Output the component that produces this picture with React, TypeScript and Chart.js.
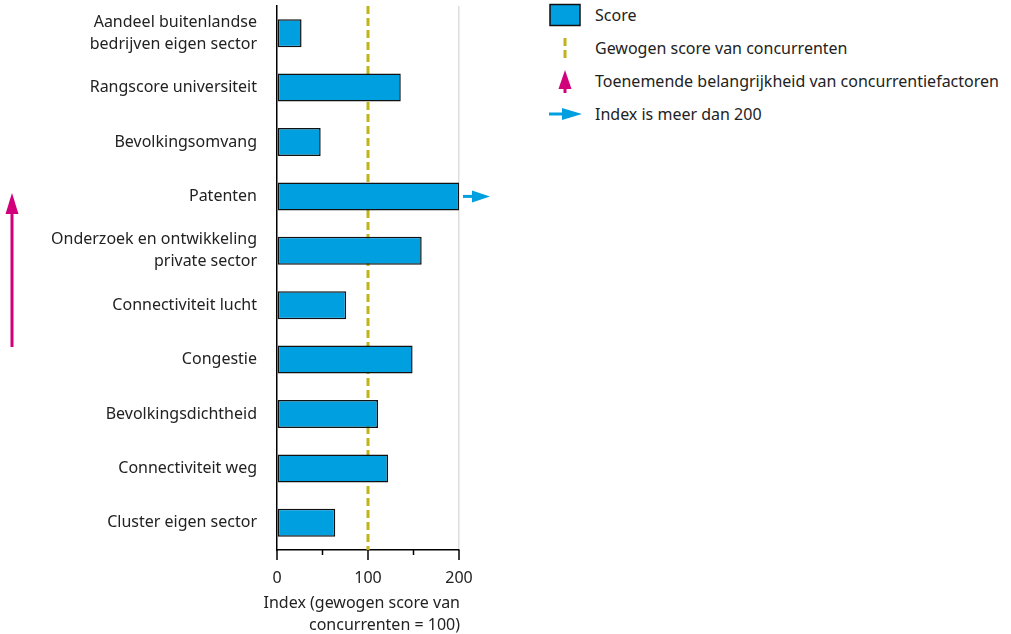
import React, { useEffect, useRef } from "react";
import { Chart, registerables } from "chart.js";

Chart.register(...registerables);

const categories: (string | string[])[] = [
  ["Aandeel buitenlandse", "bedrijven eigen sector"],
  "Rangscore universiteit",
  "Bevolkingsomvang",
  "Patenten",
  ["Onderzoek en ontwikkeling", "private sector"],
  "Connectiviteit lucht",
  "Congestie",
  "Bevolkingsdichtheid",
  "Connectiviteit weg",
  "Cluster eigen sector",
];
// Patenten exceeds 200; shown capped at the axis maximum with an arrow
const scores = [27, 136, 48, 200, 159, 76, 149, 111, 122, 64];
const exceedsMax = [false, false, false, true, false, false, false, false, false, false];
const competitorScore = 100;
const xTickValues = [0, 50, 100, 150, 200];
const xTickLabels = ["0", "", "100", "", "200"];
const xTitle = ["Index (gewogen score van", "concurrenten = 100)"];
const legendLabels = [
  "Score",
  "Gewogen score van concurrenten",
  "Toenemende belangrijkheid van concurrentiefactoren",
  "Index is meer dan 200",
];

const FONT = "'Noto Sans', sans-serif";
const BLUE = "#009FE0";
const OLIVE = "#C0B31B";
const MAGENTA = "#D1007A";
const TEXT = "#222";

const overlayPlugin = {
  id: "overlay",
  beforeDatasetsDraw(chart: any) {
    const { ctx, chartArea, scales } = chart;
    const x = scales.x.getPixelForValue(competitorScore);
    ctx.save();
    ctx.strokeStyle = OLIVE;
    ctx.lineWidth = 3;
    ctx.setLineDash([8, 4]);
    ctx.beginPath();
    ctx.moveTo(x, chartArea.top);
    ctx.lineTo(x, chartArea.bottom);
    ctx.stroke();
    ctx.restore();
  },
  afterDatasetsDraw(chart: any) {
    const { ctx, chartArea, scales } = chart;
    ctx.save();
    // x ticks
    ctx.strokeStyle = "#000";
    ctx.lineWidth = 1.5;
    xTickValues.forEach((v, i) => {
      const x = scales.x.getPixelForValue(v);
      const len = xTickLabels[i] ? 10 : 5;
      ctx.beginPath();
      ctx.moveTo(x, chartArea.bottom);
      ctx.lineTo(x, chartArea.bottom + len);
      ctx.stroke();
    });
    // x-axis title (right aligned to the axis end, not squeezed)
    ctx.fillStyle = TEXT;
    ctx.font = `16px ${FONT}`;
    ctx.textAlign = "right";
    ctx.textBaseline = "middle";
    xTitle.forEach((line, i) => {
      ctx.fillText(line, scales.x.right + 1, chartArea.bottom + 53 + i * 22);
    });
    // overflow arrows
    ctx.fillStyle = BLUE;
    ctx.strokeStyle = BLUE;
    scores.forEach((_, i) => {
      if (!exceedsMax[i]) return;
      const y = scales.y.getPixelForValue(i);
      const x0 = scales.x.right + 4;
      ctx.lineWidth = 3;
      ctx.beginPath();
      ctx.moveTo(x0, y);
      ctx.lineTo(x0 + 12, y);
      ctx.stroke();
      ctx.beginPath();
      ctx.moveTo(x0 + 9, y - 6);
      ctx.lineTo(x0 + 27, y);
      ctx.lineTo(x0 + 9, y + 6);
      ctx.closePath();
      ctx.fill();
    });
    // importance arrow (left)
    const ax = 12;
    const yTip = 193;
    const yEnd = 347;
    ctx.strokeStyle = MAGENTA;
    ctx.fillStyle = MAGENTA;
    ctx.lineWidth = 3;
    ctx.beginPath();
    ctx.moveTo(ax, yEnd);
    ctx.lineTo(ax, yTip + 15);
    ctx.stroke();
    ctx.beginPath();
    ctx.moveTo(ax, yTip);
    ctx.lineTo(ax + 6.5, yTip + 21);
    ctx.lineTo(ax - 6.5, yTip + 21);
    ctx.closePath();
    ctx.fill();
    ctx.restore();
  },
};

function LegendIcon({ kind }: { kind: number }) {
  if (kind === 0)
    return (
      <svg width="36" height="24">
        <rect x="2" y="1.5" width="30" height="21" fill={BLUE} stroke="#111" strokeWidth="1.5" />
      </svg>
    );
  if (kind === 1)
    return (
      <svg width="36" height="24">
        <line x1="17" y1="2" x2="17" y2="22" stroke={OLIVE} strokeWidth="3" strokeDasharray="8 4" />
      </svg>
    );
  if (kind === 2)
    return (
      <svg width="36" height="26">
        <polygon points="17,2 23.5,21 10.5,21" fill={MAGENTA} />
        <line x1="17" y1="15" x2="17" y2="25" stroke={MAGENTA} strokeWidth="3" />
      </svg>
    );
  return (
    <svg width="36" height="24">
      <line x1="1" y1="12" x2="18" y2="12" stroke={BLUE} strokeWidth="3" />
      <polygon points="14,6 34,12 14,18" fill={BLUE} />
    </svg>
  );
}

export default function App() {
  const ref = useRef<HTMLCanvasElement>(null);
  useEffect(() => {
    document.body.style.margin = "0";
    const chart = new Chart(ref.current as HTMLCanvasElement, {
      type: "bar",
      data: {
        labels: categories as any,
        datasets: [
          {
            label: legendLabels[0],
            data: scores,
            backgroundColor: BLUE,
            borderColor: "#111",
            borderWidth: 1.5,
            borderSkipped: false,
            categoryPercentage: 1,
            barPercentage: 0.515,
          },
        ],
      },
      options: {
        indexAxis: "y",
        animation: false,
        responsive: true,
        maintainAspectRatio: false,
        layout: { padding: { top: 6, right: 71, bottom: 0, left: 0 } },
        plugins: { legend: { display: false }, tooltip: { enabled: false } },
        scales: {
          x: {
            min: 0,
            max: 200,
            afterBuildTicks: (scale: any) => {
              scale.ticks = xTickValues.map((v) => ({ value: v }));
            },
            afterFit: (scale: any) => {
              scale.height = 84;
            },
            ticks: {
              autoSkip: false,
              maxRotation: 0,
              padding: 9,
              color: TEXT,
              font: { family: FONT, size: 16 },
              callback: (v: any) => {
                const i = xTickValues.indexOf(Number(v));
                return i >= 0 ? xTickLabels[i] : "";
              },
            },
            grid: {
              drawTicks: true,
              tickLength: 10,
              tickColor: "rgba(0,0,0,0)",
              color: (c: any) => (c.tick && c.tick.value === 200 ? "#dddddd" : "rgba(0,0,0,0)"),
              lineWidth: 1.5,
            },
            border: { display: true, color: "#000", width: 1.5 },
            title: { display: false },
          },
          y: {
            afterFit: (scale: any) => {
              scale.width = 277;
              scale.paddingTop = 0;
              scale.paddingBottom = 0;
            },
            ticks: {
              padding: 20,
              color: TEXT,
              autoSkip: false,
              font: { family: FONT, size: 16, lineHeight: 1.375 },
            },
            grid: { display: false, drawTicks: false },
            border: { display: true, color: "#000", width: 1.5 },
          },
        },
      },
      plugins: [overlayPlugin],
    } as any);
    return () => chart.destroy();
  }, []);

  return (
    <div style={{ position: "relative", width: 1011, height: 634, overflow: "hidden", fontFamily: FONT }}>
      <div style={{ position: "absolute", left: 0, top: 0, width: 530, height: 634 }}>
        <canvas ref={ref} />
      </div>
      <div style={{ position: "absolute", left: 548, top: 0 }}>
        {legendLabels.map((t, i) => (
          <div
            key={i}
            style={{
              position: "absolute",
              top: 15 + i * 33 - 13,
              height: 26,
              display: "flex",
              alignItems: "center",
              whiteSpace: "nowrap",
              fontSize: 16,
              color: TEXT,
            }}
          >
            <div style={{ width: 47, display: "flex", alignItems: "center" }}>
              <LegendIcon kind={i} />
            </div>
            <span>{t}</span>
          </div>
        ))}
      </div>
    </div>
  );
}
